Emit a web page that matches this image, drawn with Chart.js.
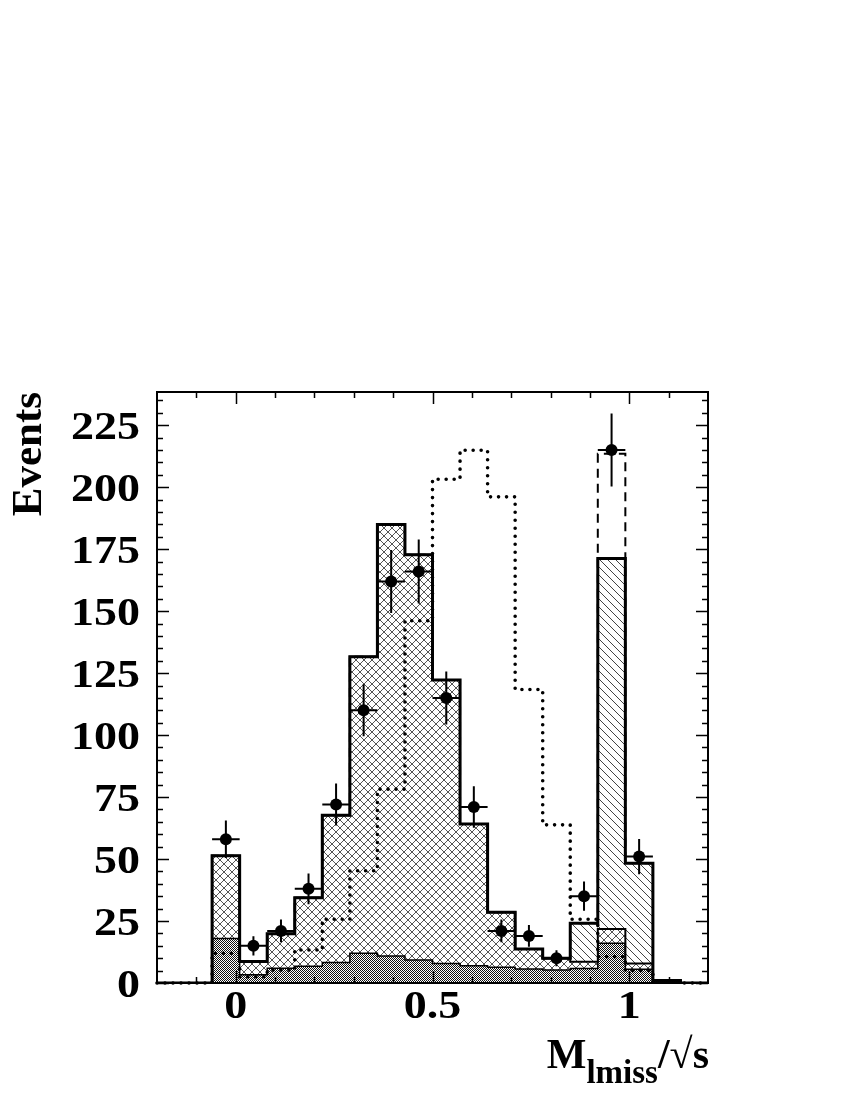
<!DOCTYPE html>
<html><head><meta charset="utf-8">
<script src="https://cdn.jsdelivr.net/npm/chart.js@4.4.1/dist/chart.umd.min.js"></script>
<style>html,body{margin:0;padding:0;background:#fff}canvas{display:block}</style>
</head><body>
<canvas id="c" width="850" height="1100"></canvas>
<script>
// ---- data ----
const binEdges = [-0.20,-0.13,-0.06,0.01,0.08,0.15,0.22,0.29,0.36,0.43,0.50,0.57,0.64,0.71,0.78,0.85,0.92,0.99,1.06,1.13,1.20];
// dark (background) component, top of its filled area
const backgroundTop = [0,0,18,3.3,6,6.8,8.3,12,10.9,9.3,7.9,7,6.4,5.6,5.2,5.8,16,5.5,0.3,0];
// cross-hatched component, cumulative top
const crossTop = [0,0,51.3,8.7,19.9,34.4,67.7,131.6,185,172.7,122.2,64.1,28.5,13.7,10,8.6,21.8,7.9,1,0];
// total MC (diagonal-hatched component on top), cumulative top
const totalMC = [0,0,51.3,8.7,19.9,34.4,67.7,131.6,185,172.7,122.2,64.1,28.5,13.7,10,24.1,171.2,48.3,1,0];
// dashed histogram (total with extra contribution)
const totalDashed = [0,0,51.3,8.7,19.9,34.4,67.7,131.6,185,172.7,122.2,64.1,28.5,13.7,10,24.1,213.5,48.3,1,0];
// dotted histogram
const dottedHist = [0,0,12,2.5,5.2,13.3,25.7,45.3,78.2,146.1,203.2,214.9,196.1,118.4,63.8,25.7,10.6,5,0.3,0];
// data points
const dataX = [-0.025,0.045,0.115,0.185,0.255,0.325,0.395,0.465,0.535,0.605,0.675,0.745,0.815,0.885,0.955,1.025];
const dataY = [58,15,21,38,72,110,162,166,115,71,21,19,10,35,215,51];
const dataErr = [7.6,3.9,4.6,6.2,8.5,10.5,12.7,12.9,10.7,8.4,4.6,4.4,3.2,5.9,14.7,7.1];
const dataXErr = 0.035;
// tick labels
const yTickValues = [0,25,50,75,100,125,150,175,200,225];
const xTickValues = [0,0.5,1];
const xTickLabels = ['0','0.5','1'];

// ---- patterns ----
const mainCtx = document.getElementById('c').getContext('2d');
function makePattern(size, draw){
  const c = document.createElement('canvas'); c.width = size; c.height = size;
  const g = c.getContext('2d'); draw(g, size);
  return mainCtx.createPattern(c, 'repeat');
}
const grayPattern = makePattern(2, (g)=>{ g.fillStyle='#111'; g.fillRect(0,0,1,1); g.fillRect(1,1,1,1); });
const crossPattern = makePattern(8, (g,s)=>{ g.fillStyle='#555'; for(let i=0;i<s;i++){ g.fillRect(i,i,1,1); g.fillRect(s-1-i,i,1,1);} });
const diagPattern = makePattern(8, (g,s)=>{ g.fillStyle='#444'; for(let i=0;i<s;i++){ g.fillRect(i,i,1,1);} });

function histPoints(vals){
  const pts = vals.map((v,i)=>({x:binEdges[i], y:v}));
  pts.push({x:binEdges[vals.length], y:vals[vals.length-1]});
  return pts;
}

const FONT = '"Liberation Serif","Times New Roman",serif';

const decorPlugin = {
  id:'decor',
  afterDatasetsDraw(chart){
    const {ctx, scales:{x,y}} = chart;
    ctx.save();
    ctx.strokeStyle='#000'; ctx.lineWidth=2;
    dataX.forEach((xv,i)=>{
      const px = x.getPixelForValue(xv), py = y.getPixelForValue(dataY[i]);
      ctx.beginPath();
      ctx.moveTo(px, y.getPixelForValue(dataY[i]-dataErr[i]));
      ctx.lineTo(px, y.getPixelForValue(dataY[i]+dataErr[i]));
      ctx.moveTo(x.getPixelForValue(xv-dataXErr), py);
      ctx.lineTo(x.getPixelForValue(xv+dataXErr), py);
      ctx.stroke();
    });
    ctx.restore();
  },
  afterDraw(chart){
    const {ctx, chartArea:a, scales:{x,y}} = chart;
    ctx.save();
    ctx.strokeStyle='#000';
    ctx.lineWidth=1.5;
    ctx.beginPath();
    for(let k=0;k<=47;k++){
      const v=k*5; if(v>y.max) break;
      const py=Math.round(y.getPixelForValue(v))+0.5;
      const len = (v%25===0)?12:6;
      ctx.moveTo(a.left,py); ctx.lineTo(a.left+len,py);
      ctx.moveTo(a.right,py); ctx.lineTo(a.right-len,py);
    }
    for(let k=-1;k<=11;k++){
      const v=k/10;
      const px=Math.round(x.getPixelForValue(v))+0.5;
      const len = (k%5===0)?12:6;
      ctx.moveTo(px,a.bottom); ctx.lineTo(px,a.bottom-len);
      ctx.moveTo(px,a.top); ctx.lineTo(px,a.top+len);
    }
    ctx.stroke();
    ctx.lineWidth=2;
    ctx.strokeRect(a.left,a.top,a.right-a.left,a.bottom-a.top);
    ctx.fillStyle='#000';
    ctx.font='bold 39px '+FONT;
    ctx.textBaseline='alphabetic';
    yTickValues.forEach(v=>{
      const py=y.getPixelForValue(v);
      ctx.save(); ctx.translate(a.left-17, py+14); ctx.scale(1.18,1);
      ctx.textAlign='right'; ctx.fillText(String(v),0,0); ctx.restore();
    });
    xTickValues.forEach((v,i)=>{
      const px=x.getPixelForValue(v);
      ctx.save(); ctx.translate(px, a.bottom+35); ctx.scale(1.18,1);
      ctx.textAlign='center'; ctx.fillText(xTickLabels[i],0,0); ctx.restore();
    });
    ctx.save();
    ctx.translate(41, a.top);
    ctx.rotate(-Math.PI/2);
    ctx.font='bold 43px '+FONT;
    ctx.textAlign='right';
    ctx.fillText('Events',0,0);
    ctx.restore();
    const big='bold 42px '+FONT, small='bold 33px '+FONT;
    const parts=[['M',big,0],['lmiss',small,15],['/√s',big,0]];
    let w=0;
    parts.forEach(p=>{ctx.font=p[1]; w+=ctx.measureText(p[0]).width;});
    let cx=a.right+1-w; const base=a.bottom+85;
    ctx.textAlign='left';
    parts.forEach(p=>{ctx.font=p[1]; ctx.fillText(p[0],cx,base+p[2]); cx+=ctx.measureText(p[0]).width;});
    ctx.restore();
  }
};

function build(){
new Chart(mainCtx, {
  type:'line',
  data:{datasets:[
    {label:'Data', type:'scatter', data:dataX.map((xv,i)=>({x:xv,y:dataY[i]})), pointRadius:6,
     pointBackgroundColor:'#000', pointBorderColor:'#000', pointBorderWidth:0, showLine:false, order:0},
    {label:'Dashed', data:histPoints(totalDashed), stepped:true, borderColor:'#000', borderWidth:2,
     borderDash:[9,6], pointRadius:0, fill:false, order:1},
    {label:'Dotted', data:histPoints(dottedHist), stepped:true, borderColor:'#000', borderWidth:3.6,
     borderDash:[0,8], borderCapStyle:'round', pointRadius:0, fill:false, order:2, clip:6},
    {label:'Background', data:histPoints(backgroundTop), stepped:true, borderColor:'#000', borderWidth:1.5,
     backgroundColor:grayPattern, fill:'origin', pointRadius:0, order:3, borderJoinStyle:'miter'},
    {label:'Cross', data:histPoints(crossTop), stepped:true, borderColor:'#000', borderWidth:2,
     backgroundColor:crossPattern, fill:3, pointRadius:0, order:4, borderJoinStyle:'miter'},
    {label:'Total', data:histPoints(totalMC), stepped:true, borderColor:'#000', borderWidth:3,
     backgroundColor:diagPattern, fill:4, pointRadius:0, order:5, borderJoinStyle:'miter'}
  ]},
  options:{
    responsive:false, animation:false, devicePixelRatio:1, events:[],
    layout:{padding:{left:157,top:392,right:142,bottom:117}},
    scales:{
      x:{type:'linear', min:-0.2, max:1.2, display:false},
      y:{type:'linear', min:0, max:238.4, display:false}
    },
    plugins:{legend:{display:false}, tooltip:{enabled:false}, filler:{drawTime:'beforeDatasetsDraw'}}
  },
  plugins:[decorPlugin]
});
}
if (document.fonts && document.fonts.load) {
  document.fonts.load('bold 39px "Liberation Serif"').then(build, build);
} else { build(); }
</script>
</body></html>
